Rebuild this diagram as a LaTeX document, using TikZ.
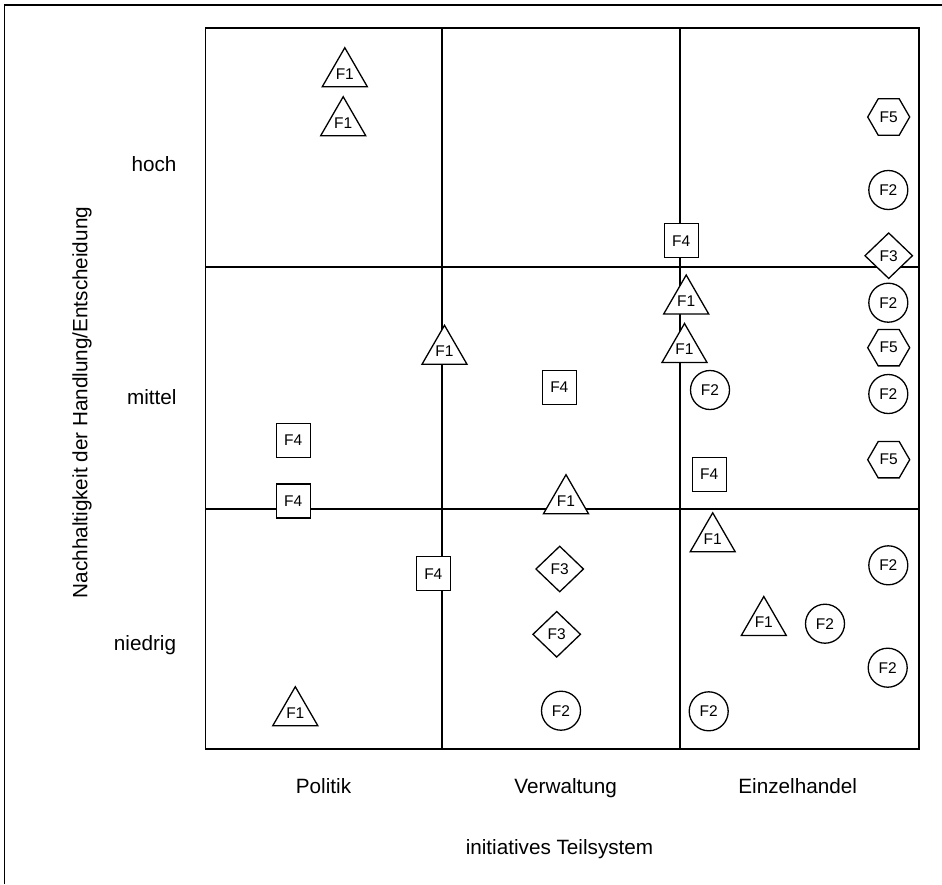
\documentclass[tikz,border=0pt]{standalone}
\usepackage{fontspec}
\setmainfont{Liberation Sans}
\usetikzlibrary{shapes.geometric}
\begin{document}
\begin{tikzpicture}[x=1pt,y=-1pt,
  mk/.style={draw, fill=white, line width=1.3pt, inner sep=0pt, font=\fontsize{15.5}{16}\selectfont},
  tri/.style={mk, regular polygon, regular polygon sides=3, minimum size=52pt},
  circ/.style={mk, circle, minimum size=39pt},
  sq/.style={mk, rectangle, minimum size=34pt},
  dia/.style={mk, diamond, minimum width=48pt, minimum height=46pt},
  hex/.style={mk, regular polygon, regular polygon sides=6, minimum size=42pt},
  lbl/.style={font=\fontsize{20.7}{24}\selectfont, inner sep=0pt},
  gridline/.style={line width=1.8pt}
]
\useasboundingbox (0,0) rectangle (942,884);

% outer frame
\draw[line width=1.5pt] (4.3,884) -- (4.3,5) -- (942,5);

% 3x3 matrix
\draw[gridline] (205.5,27.7) rectangle (918.7,748.7);
\draw[gridline] (441.7,27.7) -- (441.7,748.7);
\draw[gridline] (679.7,27.7) -- (679.7,748.7);
\draw[gridline] (205.5,267.3) -- (918.7,267.3);
\draw[gridline] (205.5,508.7) -- (918.7,508.7);

% axis labels
\node[lbl, anchor=base east] (hoch) at (176.7,171.7) {hoch};
\node[lbl, anchor=base east] (mittel) at (176.7,404.3) {mittel};
\node[lbl, anchor=base east] (niedrig) at (176.3,650.3) {niedrig};
\node[lbl, anchor=base, rotate=90] (ylab) at (87.3,402.5) {Nachhaltigkeit der Handlung/Entscheidung};
\node[lbl, anchor=base] (politik) at (323.5,793.7) {Politik};
\node[lbl, anchor=base] (verw) at (565.7,793.7) {Verwaltung};
\node[lbl, anchor=base] (einz) at (797.7,793.7) {Einzelhandel};
\node[lbl, anchor=base] (xlab) at (559.5,854.7) {initiatives Teilsystem};

% F1 triangles
\node[tri] (t1) at (344.8,73.7) {F1};
\node[tri] (t2) at (343.2,122.7) {F1};
\node[tri] (t3) at (444.5,351.3) {F1};
\node[tri] (t4) at (686.2,301) {F1};
\node[tri] (t5) at (684.5,349.5) {F1};
\node[tri] (t6) at (566,500.7) {F1};
\node[tri] (t7) at (712.7,538.8) {F1};
\node[tri] (t8) at (763.8,622.5) {F1};
\node[tri] (t9) at (295.3,712.7) {F1};

% F4 squares
\node[sq] (s1) at (293.2,440.5) {F4};
\node[sq] (s2) at (293.2,501) {F4};
\node[sq] (s3) at (433.3,573.8) {F4};
\node[sq] (s4) at (681.2,240.8) {F4};
\node[sq] (s5) at (559.3,387.5) {F4};
\node[sq] (s6) at (709.2,474.2) {F4};

% F2 circles
\node[circ] (c1) at (888.3,190) {F2};
\node[circ] (c2) at (888.3,302.7) {F2};
\node[circ] (c3) at (888.3,394) {F2};
\node[circ] (c4) at (710,390) {F2};
\node[circ] (c5) at (888.3,565.3) {F2};
\node[circ] (c6) at (825,623.7) {F2};
\node[circ] (c7) at (887.7,667.7) {F2};
\node[circ] (c8) at (708.7,711.3) {F2};
\node[circ] (c9) at (561,710.7) {F2};

% F5 hexagons
\node[hex] (h1) at (888.7,117) {F5};
\node[hex] (h2) at (888.7,347.7) {F5};
\node[hex] (h3) at (888.7,459.7) {F5};

% F3 diamonds
\node[dia] (d1) at (888.7,255.7) {F3};
\node[dia] (d2) at (559.7,569) {F3};
\node[dia] (d3) at (556.7,634.3) {F3};
\end{tikzpicture}
\end{document}
